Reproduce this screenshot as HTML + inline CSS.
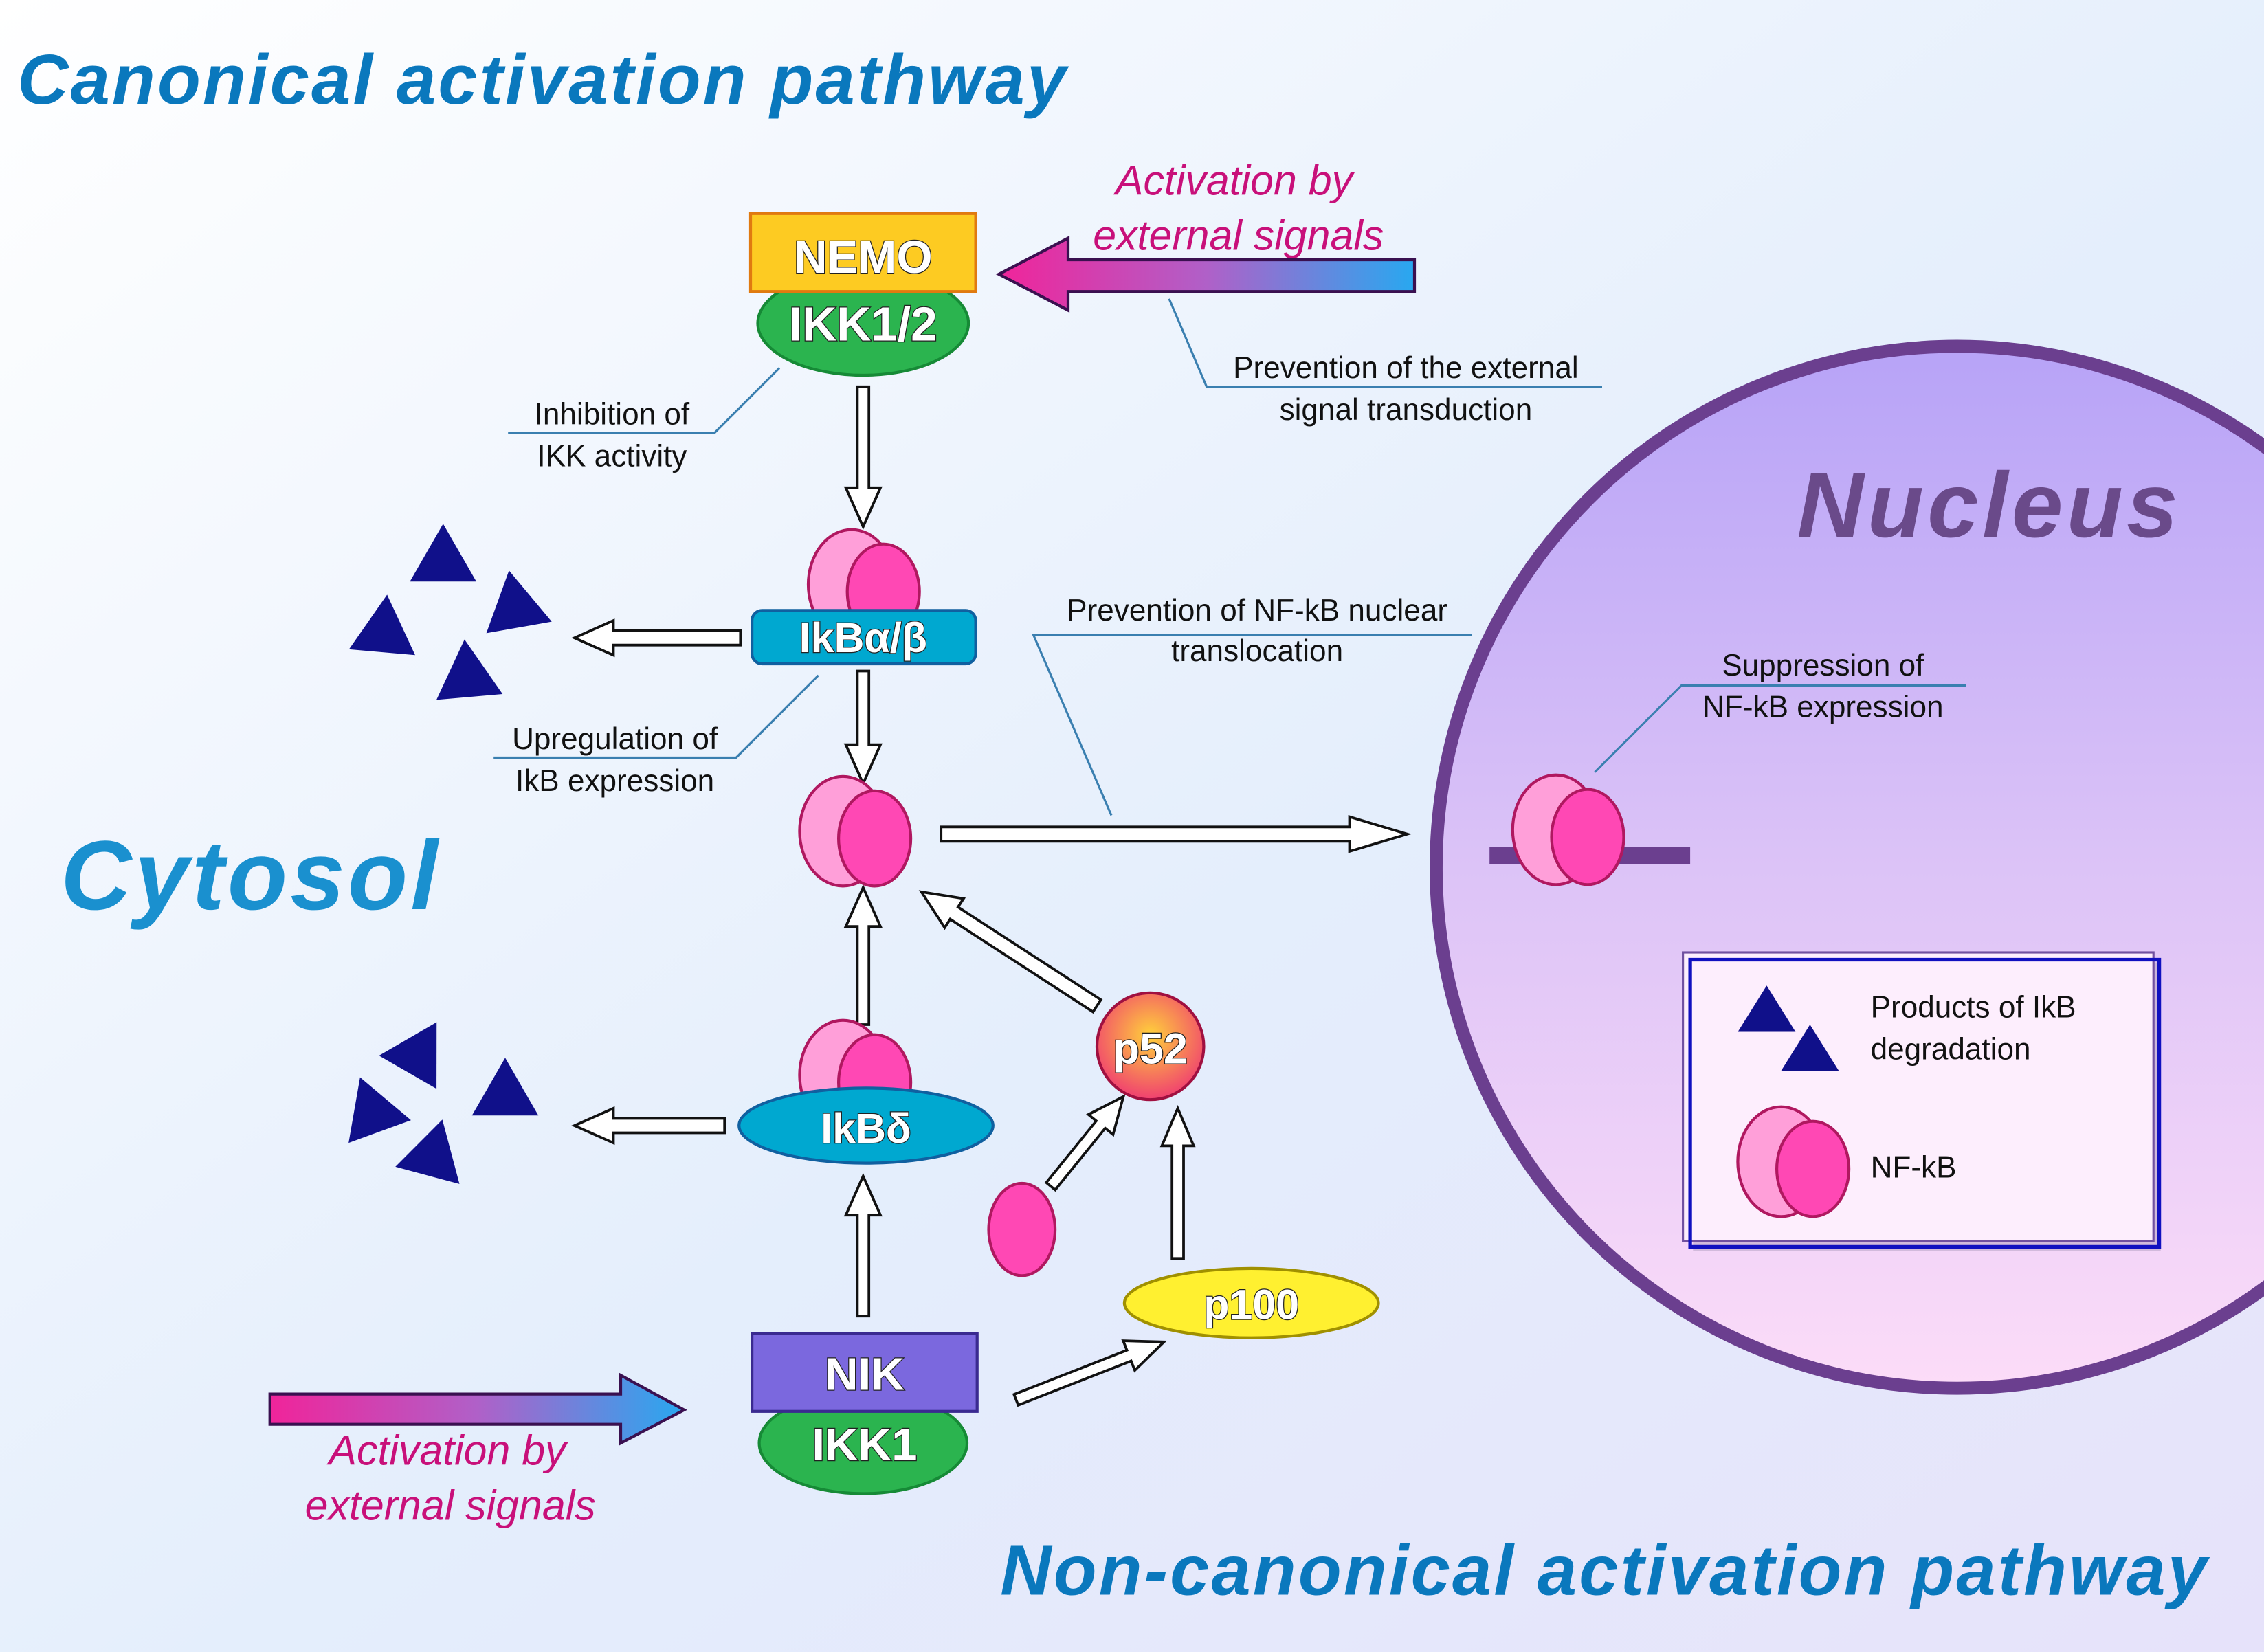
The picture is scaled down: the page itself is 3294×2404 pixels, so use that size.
<!DOCTYPE html>
<html><head><meta charset="utf-8"><style>
html,body{margin:0;padding:0;width:3294px;height:2404px;overflow:hidden;background:#fff}
svg{display:block}
text{font-family:"Liberation Sans",sans-serif}
.lbl{font-size:21px;fill:#111}
.big{font-weight:bold;fill:#fff;stroke:#222;stroke-width:1.2;paint-order:stroke}
</style></head><body>
<svg width="3294" height="2404" viewBox="0 0 1568.57 1144.76" xmlns="http://www.w3.org/2000/svg">
<defs>
<linearGradient id="bg" x1="0" y1="0" x2="1" y2="1">
<stop offset="0" stop-color="#ffffff"/><stop offset="0.55" stop-color="#e4eefc"/><stop offset="1" stop-color="#e6e2fa"/>
</linearGradient>
<linearGradient id="nuc" x1="0" y1="0" x2="0" y2="1">
<stop offset="0" stop-color="#b7a3f7"/><stop offset="0.5" stop-color="#dcc3f7"/><stop offset="1" stop-color="#fcdcf8"/>
</linearGradient>
<linearGradient id="gl" x1="0" y1="0" x2="1" y2="0">
<stop offset="0" stop-color="#f0249a"/><stop offset="0.5" stop-color="#b060c8"/><stop offset="1" stop-color="#28a8f0"/>
</linearGradient>
<radialGradient id="p52" cx="0.5" cy="0.4" r="0.6">
<stop offset="0" stop-color="#ffd23a"/><stop offset="1" stop-color="#f04070"/>
</radialGradient>
<g id="nf">
<ellipse cx="-10" cy="0" rx="30" ry="38" fill="#ff9fd9" stroke="#b01860" stroke-width="2"/>
<ellipse cx="12" cy="5" rx="25" ry="33" fill="#ff48b4" stroke="#b01860" stroke-width="2"/>
</g>
<polygon id="tri" points="0,-25 23,15 -23,15" fill="#10108a"/>
</defs>
<rect width="1568.57" height="1144.76" fill="url(#bg)"/>

<!-- Nucleus -->
<circle cx="1356" cy="601" r="361" fill="url(#nuc)" stroke="#6b3f8f" stroke-width="9"/>
<text x="1245" y="372" font-size="64" font-style="italic" font-weight="bold" fill="#6a4a8a" letter-spacing="2.5">Nucleus</text>

<!-- Titles -->
<text x="12" y="72" font-size="49" font-style="italic" font-weight="bold" fill="#0a78bd" letter-spacing="1.5">Canonical activation pathway</text>
<text x="42" y="630" font-size="68" font-style="italic" font-weight="bold" fill="#1a90cf" letter-spacing="2">Cytosol</text>
<text x="693" y="1105" font-size="49" font-style="italic" font-weight="bold" fill="#0a78bd" letter-spacing="1.5">Non-canonical activation pathway</text>

<!-- top external arrow -->
<polygon points="980,180 740,180 740,165 692,190 740,215 740,202 980,202" fill="url(#gl)" stroke="#3a1050" stroke-width="2"/>
<text x="855" y="135" font-size="29" font-style="italic" fill="#c8107a" text-anchor="middle">Activation by</text>
<text x="858" y="173" font-size="29" font-style="italic" fill="#c8107a" text-anchor="middle">external signals</text>
<!-- bottom external arrow -->
<polygon points="187,966 430,966 430,953 474,977 430,1000 430,987 187,987" fill="url(#gl)" stroke="#3a1050" stroke-width="2"/>
<text x="310" y="1015" font-size="29" font-style="italic" fill="#c8107a" text-anchor="middle">Activation by</text>
<text x="312" y="1053" font-size="29" font-style="italic" fill="#c8107a" text-anchor="middle">external signals</text>

<!-- callout lines -->
<g fill="none" stroke="#3a7fb0" stroke-width="1.5">
<polyline points="540,255 495,300 352,300"/>
<polyline points="810,207 836,268 1110,268"/>
<polyline points="567,468 510,525 342,525"/>
<polyline points="770,565 716,440 1020,440"/>
<polyline points="1105,535 1165,475 1362,475"/>
</g>
<text class="lbl" x="424" y="294" text-anchor="middle">Inhibition of</text>
<text class="lbl" x="424" y="323" text-anchor="middle">IKK activity</text>
<text class="lbl" x="974" y="262" text-anchor="middle">Prevention of the external</text>
<text class="lbl" x="974" y="291" text-anchor="middle">signal transduction</text>
<text class="lbl" x="426" y="519" text-anchor="middle">Upregulation of</text>
<text class="lbl" x="426" y="548" text-anchor="middle">IkB expression</text>
<text class="lbl" x="871" y="430" text-anchor="middle">Prevention of NF-kB nuclear</text>
<text class="lbl" x="871" y="458" text-anchor="middle">translocation</text>
<text class="lbl" x="1263" y="468" text-anchor="middle">Suppression of</text>
<text class="lbl" x="1263" y="497" text-anchor="middle">NF-kB expression</text>

<!-- hollow arrows -->
<g fill="#fff" stroke="#111" stroke-width="1.8">
<polygon transform="translate(598,268) rotate(90)" points="0,-4 70,-4 70,-12 97,0 70,12 70,4 0,4"/>
<polygon transform="translate(513,442) rotate(180)" points="0,-5 88,-5 88,-12 115,0 88,12 88,5 0,5"/>
<polygon transform="translate(598,465) rotate(90)" points="0,-4 51,-4 51,-12 78,0 51,12 51,4 0,4"/>
<polygon transform="translate(652,578)" points="0,-5 283,-5 283,-12 323,0 283,12 283,5 0,5"/>
<polygon transform="translate(598,912) rotate(-90)" points="0,-4 70,-4 70,-12 97,0 70,12 70,4 0,4"/>
<polygon transform="translate(598,710) rotate(-90)" points="0,-4 68,-4 68,-12 95,0 68,12 68,4 0,4"/>
<polygon transform="translate(502,780) rotate(180)" points="0,-5 77,-5 77,-12 104,0 77,12 77,5 0,5"/>
<polygon transform="translate(760,697) rotate(213)" points="0,-5 118,-5 118,-12 145,0 118,12 118,5 0,5"/>
<polygon transform="translate(728,822) rotate(-51)" points="0,-4 55,-4 55,-11 80,0 55,11 55,4 0,4"/>
<polygon transform="translate(816,872) rotate(-90)" points="0,-4 78,-4 78,-11 104,0 78,11 78,4 0,4"/>
<polygon transform="translate(704,970) rotate(-21.4)" points="0,-4 84,-4 84,-11 110,0 84,11 84,4 0,4"/>
</g>

<!-- NEMO / IKK1/2 -->
<ellipse cx="598" cy="224" rx="73" ry="36" fill="#2bb44f" stroke="#168a36" stroke-width="2"/>
<rect x="520" y="148" width="156" height="54" fill="#fdcb22" stroke="#e07a10" stroke-width="2"/>
<text class="big" x="598" y="189" font-size="32" text-anchor="middle">NEMO</text>
<text class="big" x="598" y="236" font-size="33" text-anchor="middle">IKK1/2</text>

<!-- IkBa/b -->
<use href="#nf" x="600" y="405"/>
<rect x="521" y="423" width="155" height="37" rx="7" fill="#00a8d0" stroke="#1060a0" stroke-width="2"/>
<text class="big" x="598" y="452" font-size="29" text-anchor="middle">IkBα/β</text>

<!-- free NF-kB -->
<use href="#nf" x="594" y="576"/>

<!-- IkBd -->
<use href="#nf" x="594" y="745"/>
<ellipse cx="600" cy="780" rx="88" ry="26" fill="#00a8d0" stroke="#1060a0" stroke-width="2"/>
<text class="big" x="600" y="792" font-size="29" text-anchor="middle">IkBδ</text>

<!-- p52 -->
<circle cx="797" cy="725" r="37" fill="url(#p52)" stroke="#a01040" stroke-width="2"/>
<text class="big" x="797" y="737" font-size="30" text-anchor="middle">p52</text>
<ellipse cx="708" cy="852" rx="23" ry="32" fill="#ff48b4" stroke="#b01860" stroke-width="2"/>

<!-- p100 -->
<ellipse cx="867" cy="903" rx="88" ry="24" fill="#fff030" stroke="#a09000" stroke-width="2"/>
<text class="big" x="867" y="914" font-size="29" text-anchor="middle">p100</text>

<!-- NIK / IKK1 -->
<ellipse cx="598" cy="1000" rx="72" ry="35" fill="#2bb44f" stroke="#168a36" stroke-width="2"/>
<rect x="521" y="924" width="156" height="54" fill="#7b68de" stroke="#3a2a90" stroke-width="2"/>
<text class="big" x="599" y="963" font-size="32" text-anchor="middle">NIK</text>
<text class="big" x="599" y="1012" font-size="32" text-anchor="middle">IKK1</text>

<!-- triangles -->
<use href="#tri" transform="translate(307,388) rotate(0)"/>
<use href="#tri" transform="translate(357,420) rotate(-10)"/>
<use href="#tri" transform="translate(266,437) rotate(5)"/>
<use href="#tri" transform="translate(324,468) rotate(-5)"/>
<use href="#tri" transform="translate(290,730) rotate(30)"/>
<use href="#tri" transform="translate(350,758) rotate(0)"/>
<use href="#tri" transform="translate(258,770) rotate(-20)"/>
<use href="#tri" transform="translate(300,800) rotate(15)"/>

<!-- nucleus DNA + NF-kB -->
<rect x="1032" y="587" width="139" height="12" fill="#6b3f8f"/>
<use href="#nf" x="1088" y="575"/>

<!-- legend -->
<rect x="1173" y="667" width="324" height="200" fill="#b0a0c0" opacity="0.5"/>
<rect x="1166" y="660" width="326" height="200" fill="#fdeefd" stroke="#7050a0" stroke-width="1.5"/>
<rect x="1171" y="665" width="325" height="199" fill="none" stroke="#1010c0" stroke-width="2.5"/>
<polygon points="1224,683 1244,715 1204,715" fill="#10108a"/>
<polygon points="1254,710 1274,742 1234,742" fill="#10108a"/>
<text class="lbl" x="1296" y="705">Products of IkB</text>
<text class="lbl" x="1296" y="734">degradation</text>
<use href="#nf" x="1244" y="805"/>
<text class="lbl" x="1296" y="816">NF-kB</text>
</svg>
</body></html>
